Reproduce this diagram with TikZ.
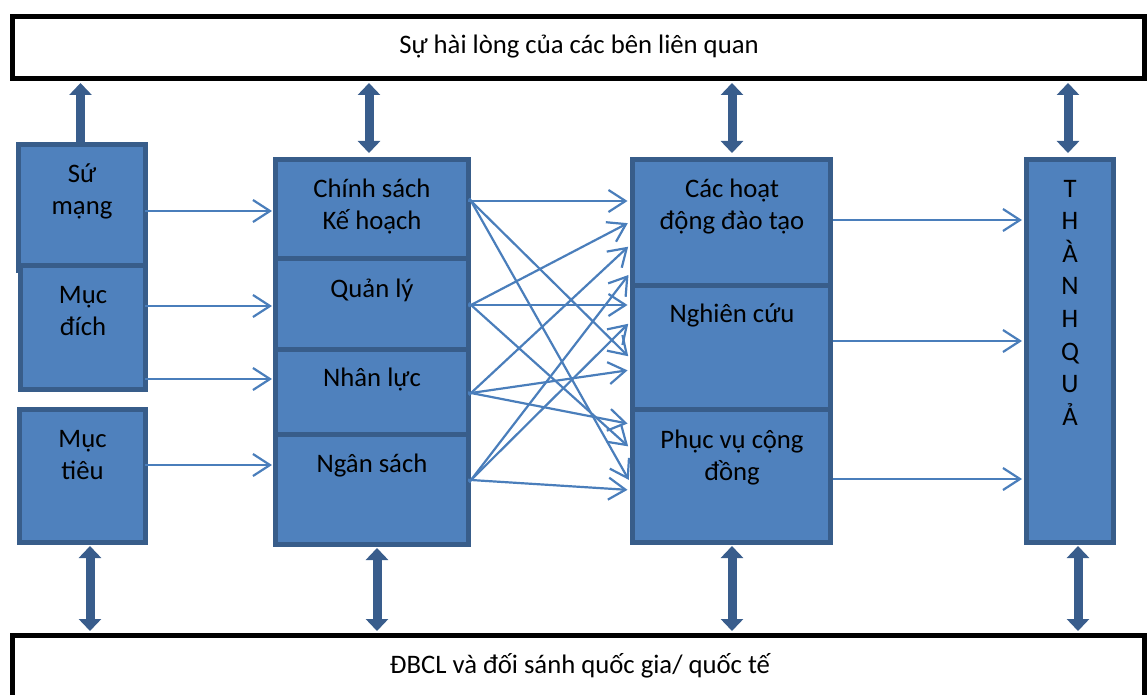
\documentclass[tikz,border=0pt]{standalone}
\usepackage{fontspec}
\setmainfont{Carlito}
\usetikzlibrary{arrows.meta,fit}
\definecolor{boxfill}{HTML}{4F81BD}
\definecolor{boxline}{HTML}{385D8A}
\definecolor{thinline}{HTML}{4A7EBB}
\definecolor{blockcol}{HTML}{395D8C}
\begin{document}
\begin{tikzpicture}[x=1pt,y=-1pt,
  bluebox/.style={rectangle, draw=boxline, fill=boxfill, line width=5pt, inner sep=0pt},
  whitebox/.style={rectangle, draw=black, fill=white, line width=5pt, inner sep=0pt},
  txt/.style={font=\fontsize{26.7pt}{32.4pt}\selectfont, align=center, inner sep=0pt, anchor=base},
  thinarrow/.style={draw=thinline, line width=2.2pt, -{Straight Barb[length=17pt,width=22pt]}},
  blockarrow/.style={draw=blockcol, line width=9pt, -{Triangle[width=22pt,length=12pt]}},
  dblarrow/.style={draw=blockcol, line width=9pt, {Triangle[width=22pt,length=12pt]}-{Triangle[width=22pt,length=12pt]}},
]
\useasboundingbox (0,0) rectangle (1147,695);
\clip (0,0) rectangle (1147,695);

% top and bottom boxes
\node[whitebox, fit={(12,16.5)(1144,78.5)}] (top) {};
\node[whitebox, fit={(12.5,635.5)(1144.5,720)}] (bot) {};
\node[txt] (ttop) at (579,54) {Sự hài lòng của các bên liên quan};
\node[txt] (tbot) at (580,673) {ĐBCL và đối sánh quốc gia/ quốc tế};

% left column
\node[bluebox, fit={(18.5,144.5)(145.5,270.5)}] (b1) {};
\node[bluebox, fit={(20.5,265.5)(145.5,389.5)}] (b2) {};
\node[bluebox, fit={(19.5,409.5)(145.5,542.5)}] (b3) {};
% (anchor base = baseline of the last line)
\node[txt] (t1) at (82,214.4) {Sứ\\mạng};
\node[txt] (t2) at (83,335.4) {Mục\\đích};
\node[txt] (t3) at (82.5,479.4) {Mục\\tiêu};

% second column
\node[bluebox, fit={(275.5,159.5)(468.5,258)}] (c2a) {};
\node[bluebox, fit={(275.5,258)(468.5,349)}] (c2b) {};
\node[bluebox, fit={(275.5,349)(468.5,434)}] (c2c) {};
\node[bluebox, fit={(275.5,434)(468.5,544.5)}] (c2d) {};
\node[txt] (t4) at (372,229.4) {Chính sách\\Kế hoạch};
\node[txt] (t5) at (372,297) {Quản lý};
\node[txt] (t6) at (372,386) {Nhân lực};
\node[txt] (t7) at (372,472) {Ngân sách};

% third column
\node[bluebox, fit={(632.5,159.5)(830.5,285)}] (c3a) {};
\node[bluebox, fit={(632.5,285)(830.5,409)}] (c3b) {};
\node[bluebox, fit={(632.5,409)(830.5,542.5)}] (c3c) {};
\node[txt] (t8) at (732,229.4) {Các hoạt\\động đào tạo};
\node[txt] (t9) at (732,322) {Nghiên cứu};
\node[txt] (t10) at (732,480.4) {Phục vụ cộng\\đồng};

% fourth column
\node[bluebox, fit={(1026.5,159.5)(1113.5,542.5)}] (c4) {};
\node[txt, font=\fontsize{26.7pt}{32.6pt}\selectfont] (t11) at (1070,425.2) {T\\H\\À\\N\\H\\Q\\U\\Ả};

% block arrows to top box
\draw[blockarrow, shorten >=2pt] ([xshift=-1.5pt]b1.north) -- ([xshift=-1.5pt]b1.north |- top.south);
\draw[dblarrow, shorten <=4pt, shorten >=2pt] ([xshift=-3pt]c2a.north) -- ([xshift=-3pt]c2a.north |- top.south);
\draw[dblarrow, shorten <=4pt, shorten >=2pt] ([xshift=0.5pt]c3a.north) -- ([xshift=0.5pt]c3a.north |- top.south);
\draw[dblarrow, shorten <=4pt, shorten >=2pt] ([xshift=-2pt]c4.north) -- ([xshift=-2pt]c4.north |- top.south);

% block arrows to bottom box
\draw[dblarrow, shorten <=1pt, shorten >=2pt] ([xshift=7.5pt]b3.south) -- ([xshift=7.5pt]b3.south |- bot.north);
\draw[dblarrow, shorten <=1pt, shorten >=2pt] ([xshift=5pt]c2d.south) -- ([xshift=5pt]c2d.south |- bot.north);
\draw[dblarrow, shorten <=1pt, shorten >=2pt] ([xshift=0.5pt]c3c.south) -- ([xshift=0.5pt]c3c.south |- bot.north);
\draw[dblarrow, shorten <=1pt, shorten >=2pt] ([xshift=8pt]c4.south) -- ([xshift=8pt]c4.south |- bot.north);

% left to second column
\draw[thinarrow, shorten <=-3pt, shorten >=1pt] (b1.east |- 0,211) -- (c2a.west |- 0,211);
\draw[thinarrow, shorten <=-3pt, shorten >=1pt] (b2.east |- 0,306) -- (c2b.west |- 0,306);
\draw[thinarrow, shorten <=-3pt, shorten >=1pt] (b2.east |- 0,379) -- (c2c.west |- 0,379);
\draw[thinarrow, shorten <=-3pt, shorten >=1pt] (b3.east |- 0,465) -- (c2d.west |- 0,465);

% second to third column
\foreach \sy/\ty in {201/201, 201/358, 201/482, 305/222, 305/305, 305/448,
                     393/245, 393/370, 393/424, 480/273, 480/322, 480/490}
  \draw[thinarrow, shorten <=-3pt, shorten >=2.5pt] (c2a.east |- 0,\sy) -- (c3a.west |- 0,\ty);

% third to fourth column
\draw[thinarrow, shorten >=2pt] (c3a.east |- 0,220) -- (c4.west |- 0,220);
\draw[thinarrow, shorten >=2pt] (c3b.east |- 0,341) -- (c4.west |- 0,341);
\draw[thinarrow, shorten >=2pt] (c3c.east |- 0,479) -- (c4.west |- 0,479);
\end{tikzpicture}
\end{document}
